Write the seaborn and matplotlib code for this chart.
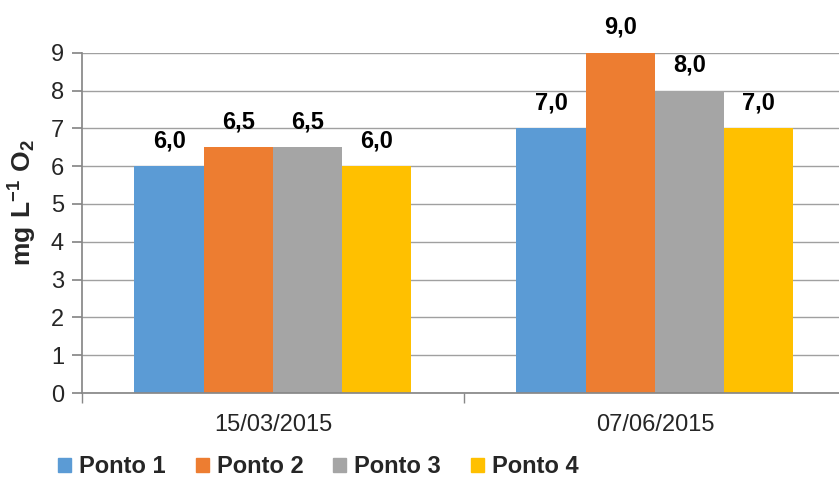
import pandas as pd
import numpy as np
import matplotlib
matplotlib.use('Agg')
import matplotlib.pyplot as plt
import seaborn as sns
from matplotlib.ticker import FixedLocator

sns.set_theme(style='white')
plt.rcParams['font.family'] = ['Liberation Sans', 'DejaVu Sans']
plt.rcParams['mathtext.fontset'] = 'custom'
plt.rcParams['mathtext.bf'] = 'Liberation Sans:bold'
plt.rcParams['mathtext.rm'] = 'Liberation Sans'

# data
datas = ['15/03/2015', '07/06/2015']
pontos = ['Ponto 1', 'Ponto 2', 'Ponto 3', 'Ponto 4']
ponto1 = [6.0, 7.0]
ponto2 = [6.5, 9.0]
ponto3 = [6.5, 8.0]
ponto4 = [6.0, 7.0]
cores = ['#5B9BD5', '#ED7D31', '#A5A5A5', '#FFC000']

df = pd.DataFrame({
    'data': datas * 4,
    'ponto': [p for p in pontos for _ in datas],
    'valor': ponto1 + ponto2 + ponto3 + ponto4,
})

fig = plt.figure(figsize=(8.39, 4.84), dpi=100)
ax = fig.add_axes([0.0977, 0.188, 0.9106, 0.703])

sns.barplot(data=df, x='data', y='valor', hue='ponto', order=datas,
            hue_order=pontos, palette=cores, width=0.725, saturation=1,
            linewidth=0, ax=ax, legend=True)

for cont in ax.containers:
    labels = [f'{v:.1f}'.replace('.', ',') for v in cont.datavalues]
    ax.bar_label(cont, labels=labels, padding=10, fontsize=17,
                 fontweight='bold', color='black', clip_on=False)

ax.set_ylim(0, 9)
ax.set_xlim(-0.5, 1.5)
ax.set_yticks(range(0, 10))
ax.yaxis.grid(True, color='#A0A0A0', linewidth=1)
ax.set_axisbelow(True)
for s in ['top', 'right']:
    ax.spines[s].set_visible(False)
ax.spines['left'].set_color('#888888')
ax.spines['bottom'].set_color('#888888')
ax.tick_params(axis='y', which='major', left=True, length=7, color='#888888',
               labelsize=17, pad=6)
ax.tick_params(axis='x', which='major', bottom=False, labelsize=17, pad=9)
ax.xaxis.set_minor_locator(FixedLocator([-0.5, 0.5, 1.5]))
ax.tick_params(axis='x', which='minor', bottom=True, length=7, color='#888888')
ax.set_xlabel('')
ax.set_ylabel(r'$\mathbf{mg\ L^{-1}\ O_2}$', fontsize=19)
ax.yaxis.set_label_coords(-0.056, 0.56)

ax.legend_.remove()
handles = [plt.Rectangle((0, 0), 1, 1, color=c) for c in cores]
fig.legend(handles, pontos, loc='lower left', bbox_to_anchor=(0.044, -0.032),
           ncol=4, frameon=False, handlelength=0.55, handleheight=0.55,
           handletextpad=0.35, columnspacing=1.25,
           prop={'weight': 'bold', 'size': 17})

fig.savefig('out.png', dpi=100)
